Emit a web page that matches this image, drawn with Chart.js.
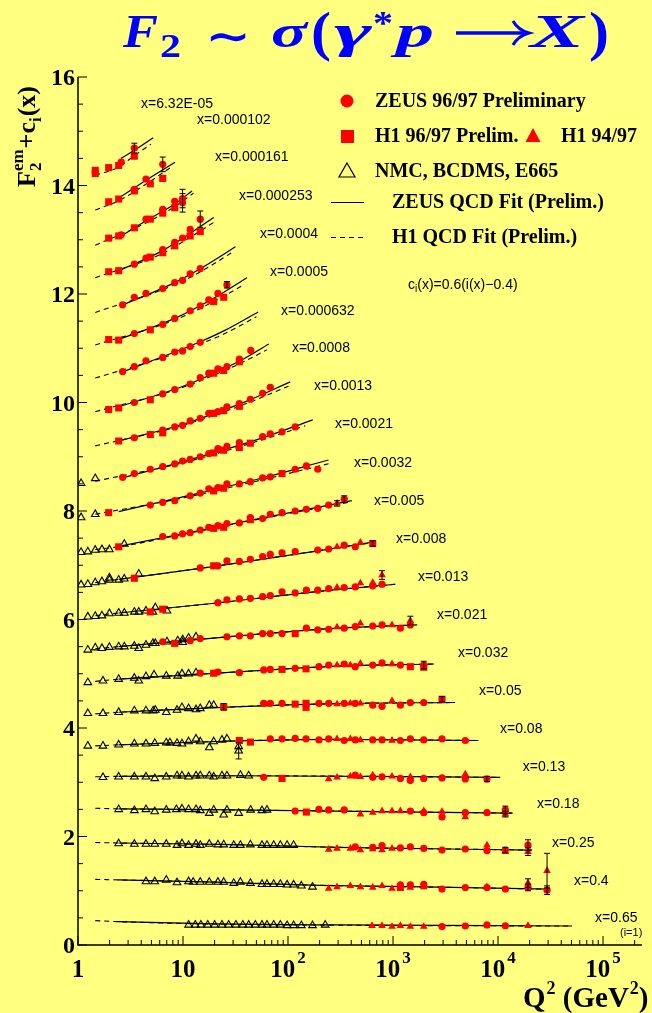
<!DOCTYPE html>
<html>
<head>
<meta charset="utf-8">
<title>F2 vs Q2</title>
<script src="https://cdn.jsdelivr.net/npm/chart.js@4.4.0/dist/chart.umd.min.js"></script>
<style>
  html, body { margin: 0; padding: 0; background: #ffff80; }
  #wrap { width: 652px; height: 1013px; position: relative; }
</style>
</head>
<body>
<div id="wrap"><canvas id="f2chart" width="652" height="1013"></canvas></div>
<script>
// bins, bottom (i=1) to top; values plotted are F2 + c_i(x), Q2 in GeV^2
const binNames = ['x=0.65', 'x=0.4', 'x=0.25', 'x=0.18', 'x=0.13', 'x=0.08', 'x=0.05', 'x=0.032',
  'x=0.021', 'x=0.013', 'x=0.008', 'x=0.005', 'x=0.0032', 'x=0.0021', 'x=0.0013', 'x=0.0008',
  'x=0.000632', 'x=0.0005', 'x=0.0004', 'x=0.000253', 'x=0.000161', 'x=0.000102', 'x=6.32E-05'];

// where each bin name sits (Q2, y)
const binLabelAt = [[83900, 0.50], [52900, 1.18], [32700, 1.88], [23500, 2.60], [17200, 3.28], [10440, 3.98],
  [6592, 4.68], [4159, 5.38], [2624, 6.08], [1730, 6.78], [1068, 7.48], [659, 8.19], [425, 8.88], [280, 9.60],
  [177, 10.30], [109, 11.0], [85.8, 11.69], [67.4, 12.41], [54.1, 13.11], [34.1, 13.81], [20.2, 14.53],
  [13.6, 15.20], [3.98, 15.50]];

// ZEUS 96/97 preliminary  [Q2, F2+c, error]
const zeusPoints = [
  // x=0.65
  [2928, 0.34], [4880, 0.35], [7850, 0.37], [11740, 0.355],
  // x=0.4
  [1175, 1.11], [1462, 1.11], [1962, 1.12], [2928, 1.03], [4880, 1.06], [7850, 1.06], [11740, 1.03], [19300, 1.06, 0.06], [29300, 1.01, 0.08],
  // x=0.25
  [437, 1.81], [641, 1.80], [786, 1.83], [1175, 1.79], [1462, 1.81], [1962, 1.78], [2928, 1.75], [4880, 1.77], [7850, 1.74], [11740, 1.75, 0.05], [19300, 1.84, 0.1],
  // x=0.18
  [117, 2.47], [197, 2.50], [244, 2.49], [343, 2.49], [1462, 2.47], [1962, 2.44], [2928, 2.36], [4880, 2.44], [7850, 2.44], [11740, 2.49, 0.07],
  // x=0.13
  [58.7, 3.09], [437, 3.13], [641, 3.09], [786, 3.10], [1175, 3.07], [1462, 3.03], [1962, 3.07], [2928, 3.08], [4880, 3.06], [7850, 3.06, 0.05],
  // x=0.08
  [67.8, 3.80], [87.7, 3.80], [117, 3.81], [148.5, 3.80], [197, 3.78], [244, 3.80], [343, 3.77], [437, 3.78], [641, 3.78], [786, 3.78], [1175, 3.77], [1462, 3.80], [1962, 3.78], [2928, 3.80], [4880, 3.77],
  // x=0.05
  [58.7, 4.455], [67.8, 4.455], [87.7, 4.455], [197, 4.455], [244, 4.455], [343, 4.455], [437, 4.455], [641, 4.42], [786, 4.40], [1175, 4.42], [1462, 4.47], [1962, 4.47],
  // x=0.032
  [14.6, 5.01], [21.5, 5.03], [34.4, 5.02], [58.7, 5.07], [67.8, 5.08], [117, 5.10], [197, 5.13], [244, 5.16], [343, 5.18], [437, 5.13], [641, 5.16], [786, 5.20], [1175, 5.16], [1962, 5.16, 0.07],
  // x=0.021
  [6.41, 5.59], [11.7, 5.61], [14.6, 5.65], [26.2, 5.68], [34.4, 5.70], [43.8, 5.70], [57.3, 5.74], [67.8, 5.74], [87.7, 5.74], [149.5, 5.84], [192, 5.81], [244, 5.82], [343, 5.84], [437, 5.87], [641, 5.88], [786, 5.90], [1175, 5.84], [1462, 5.90],
  // x=0.013
  [21.5, 6.31], [26.2, 6.36], [34.4, 6.38], [43.8, 6.39], [57.3, 6.42], [67.8, 6.44], [87.7, 6.51], [117, 6.49], [149.5, 6.54], [192, 6.54], [244, 6.57], [343, 6.59], [437, 6.60], [641, 6.62], [786, 6.65],
  // x=0.008
  [14.6, 6.95], [21.5, 6.99], [26.2, 7.08], [34.4, 7.07], [43.8, 7.11], [57.3, 7.16], [67.8, 7.20], [87.7, 7.23], [117, 7.25], [192, 7.28], [244, 7.30], [343, 7.37], [437, 7.34],
  // x=0.005
  [6.41, 7.53], [8.34, 7.54], [9.9, 7.58], [11.7, 7.60], [14.6, 7.65], [17.6, 7.70], [21.5, 7.73], [26.2, 7.77], [34.4, 7.78], [43.8, 7.88], [57.3, 7.86], [67.8, 7.94], [87.7, 7.97], [117, 8.00], [149.5, 8.03], [192, 8.05], [244, 8.11], [343, 8.22, 0.06],
  // x=0.0032
  [4.88, 8.11], [6.41, 8.16], [8.34, 8.19], [11.7, 8.28], [14.6, 8.33], [17.6, 8.41], [21.5, 8.43], [26.2, 8.50], [34.4, 8.50], [43.8, 8.54], [57.3, 8.61], [67.8, 8.63], [117, 8.77], [149.5, 8.83], [192, 8.77],
  // x=0.0021
  [2.66, 8.62], [3.44, 8.69], [4.88, 8.77], [6.41, 8.82], [8.34, 8.87], [9.9, 8.92], [11.7, 8.95], [14.6, 9.00], [17.6, 9.06], [21.5, 9.15], [26.2, 9.19], [34.4, 9.26], [57.3, 9.37], [67.8, 9.42], [87.7, 9.46], [117, 9.55],
  // x=0.0013
  [3.44, 9.35], [6.41, 9.49], [8.34, 9.55], [9.9, 9.58], [11.7, 9.66], [14.6, 9.71], [17.6, 9.80], [21.5, 9.83], [26.2, 9.92], [34.4, 9.98], [43.8, 10.06], [57.3, 10.17], [67.8, 10.28],
  // x=0.0008
  [3.44, 10.00], [6.41, 10.16], [8.34, 10.24], [11.7, 10.34], [14.6, 10.46], [17.6, 10.54], [21.5, 10.62], [26.2, 10.66], [34.4, 10.80], [44.2, 10.96],
  // x=0.000632
  [2.66, 10.57], [3.44, 10.66], [4.44, 10.77], [6.41, 10.83], [8.34, 10.93], [9.9, 10.95], [11.7, 11.03], [14.6, 11.11],
  // x=0.0005
  [3.44, 11.27], [6.41, 11.44], [8.34, 11.55], [11.7, 11.69], [14.6, 11.78], [17.6, 11.89], [21.5, 12.01], [26.2, 12.17, 0.06],
  // x=0.0004
  [2.66, 11.80], [3.44, 11.94], [4.44, 12.01], [6.41, 12.10], [8.34, 12.21], [9.9, 12.25], [11.7, 12.37], [14.6, 12.47],
  // x=0.000253
  [3.44, 12.55], [4.44, 12.66], [6.41, 12.82], [8.34, 12.95], [9.9, 13.03], [11.7, 13.19], [14.6, 13.38, 0.15],
  // x=0.000161
  [2.58, 13.09], [4.44, 13.38], [6.41, 13.56], [8.34, 13.71], [9.9, 13.76, 0.17], [9.9, 13.68, 0.17],
  // x=0.000102
  [3.44, 13.93], [4.44, 14.12], [6.41, 14.39, 0.135],
  // x=6.32E-05
  [2.58, 14.43], [3.44, 14.69, 0.09]
];

// H1 96/97 preliminary
const h1Squares = [
  // x=0.4
  [1175, 1.06],
  // x=0.18
  [149.5, 2.45],
  // x=0.13
  [87.7, 3.07],
  // x=0.08
  [34.4, 3.77], [43.8, 3.74],
  // x=0.05
  [24.4, 4.39, 0.06], [117, 4.44], [148.5, 4.455], [148.5, 4.38], [2928, 4.53, 0.05],
  // x=0.032
  [19.6, 5.01], [87.7, 5.08], [148.5, 5.09], [1462, 5.13], [1962, 5.12],
  // x=0.021
  [8.34, 5.56], [117, 5.74],
  // x=0.013
  [4.88, 6.14], [6.41, 6.19],
  // x=0.008
  [3.44, 6.76], [19.6, 6.99], [641, 7.40, 0.05],
  // x=0.005
  [2.44, 7.34], [19.6, 7.68], [24.4, 7.70], [43.8, 7.84],
  // x=0.0032
  [1.96, 7.97], [19.6, 8.37], [24.4, 8.42], [87.7, 8.69],
  // x=0.0021
  [19.6, 9.07], [24.4, 9.12], [34.4, 9.17], [43.8, 9.25],
  // x=0.0013
  [2.44, 9.29], [4.88, 9.41], [6.41, 9.44], [19.6, 9.80], [24.4, 9.85], [34.4, 9.93],
  // x=0.0008
  [1.96, 9.87], [2.44, 9.90], [4.88, 10.05], [19.6, 10.54], [24.4, 10.59], [34.4, 10.75],
  // x=0.0005
  [1.96, 11.16], [2.44, 11.15], [4.88, 11.34], [19.6, 11.86], [24.4, 11.94],
  // x=0.000253
  [1.96, 12.41], [2.44, 12.43], [4.88, 12.68], [6.41, 12.76], [8.34, 12.89], [11.7, 13.07], [14.6, 13.15],
  // x=0.000161
  [1.96, 13.03], [2.44, 13.07], [3.44, 13.22], [4.88, 13.38], [6.41, 13.49], [8.34, 13.59],
  // x=0.000102
  [1.96, 13.70], [2.44, 13.75], [3.44, 13.90], [4.88, 14.03], [6.41, 14.13],
  // x=6.32E-05
  [1.46, 14.22], [1.46, 14.28], [1.96, 14.33], [2.44, 14.37], [3.44, 14.54]
];

// H1 94/97
const h1Triangles = [
  // x=0.65
  [631, 0.355], [786, 0.355], [978, 0.34], [1175, 0.355], [1462, 0.34], [1962, 0.34], [19300, 0.355],
  // x=0.4
  [244, 1.04], [293, 1.07], [392, 1.09], [489, 1.07], [641, 1.06], [786, 1.09], [978, 1.04], [1462, 1.06], [1962, 1.07], [7850, 1.07], [19300, 1.14, 0.08], [29300, 1.37, 0.32],
  // x=0.25
  [244, 1.76], [293, 1.78], [392, 1.78], [489, 1.75], [641, 1.77], [786, 1.75], [978, 1.78], [7850, 1.84], [11740, 1.72], [19300, 1.72, 0.07],
  // x=0.18
  [489, 2.41], [641, 2.44], [786, 2.47], [978, 2.47], [1175, 2.47], [1962, 2.47], [2928, 2.46], [4880, 2.36], [11740, 2.41, 0.05],
  // x=0.13
  [244, 3.06], [293, 3.09], [392, 3.11], [489, 3.10], [641, 3.13], [978, 3.11], [1462, 3.10], [4880, 3.15],
  // x=0.08
  [293, 3.80], [392, 3.80], [489, 3.78], [978, 3.77],
  // x=0.05
  [293, 4.44], [392, 4.455], [489, 4.455], [978, 4.50],
  // x=0.032
  [293, 5.16], [392, 5.16], [489, 5.19], [978, 5.18],
  // x=0.021
  [293, 5.86], [489, 5.93], [978, 5.90], [1462, 5.98, 0.08],
  // x=0.013
  [293, 6.59], [489, 6.67], [641, 6.68], [786, 6.82, 0.08],
  // x=0.008
  [293, 7.34], [489, 7.42],
  // x=0.005
  [293, 8.14, 0.05]
];

// NMC, BCDMS, E665
const fixedTarget = [
  // x=0.65
  [11.3, 0.37], [13.1, 0.37], [14.8, 0.37], [17.2, 0.37], [20.0, 0.37], [23.5, 0.37], [27.2, 0.37], [31.9, 0.37], [37.1, 0.37], [42.2, 0.37], [48.8, 0.37], [56.5, 0.37], [63, 0.37], [73, 0.37], [84.5, 0.37], [98, 0.36], [113, 0.36], [134, 0.36], [171, 0.36], [226, 0.37],
  // x=0.4
  [4.44, 1.17], [5.38, 1.17], [6.93, 1.20], [8.77, 1.15], [11.3, 1.17], [12.5, 1.16], [14.6, 1.16], [17.8, 1.16], [21.5, 1.16], [24.4, 1.16], [30.4, 1.14], [35.2, 1.16], [43.8, 1.14], [56.5, 1.12], [63, 1.12], [73, 1.12], [84.5, 1.12], [98, 1.11], [113, 1.11], [134, 1.09], [171, 1.07],
  // x=0.25
  [2.44, 1.87], [3.44, 1.86], [4.44, 1.86], [5.38, 1.86], [6.93, 1.86], [8.77, 1.84], [9.78, 1.87], [11.3, 1.84], [13.3, 1.86], [14.6, 1.84], [17.8, 1.86], [21.5, 1.85], [24.4, 1.85], [30.4, 1.84], [35.2, 1.84], [43.8, 1.85], [56.5, 1.84], [63, 1.84], [73, 1.84], [84.5, 1.84], [98, 1.84], [113, 1.84],
  // x=0.18
  [2.44, 2.50], [3.44, 2.48], [4.44, 2.50], [5.38, 2.46], [6.93, 2.49], [8.65, 2.50], [9.78, 2.51], [11.3, 2.50], [13.3, 2.50], [14.6, 2.48], [17.8, 2.43], [19.6, 2.49], [24.4, 2.40], [26.2, 2.49], [33.9, 2.43], [44, 2.49], [56.5, 2.48], [63, 2.49],
  // x=0.13
  [1.73, 3.09], [2.44, 3.10], [3.44, 3.10], [4.44, 3.10], [5.38, 3.07], [6.93, 3.10], [8.77, 3.12], [9.78, 3.12], [11.3, 3.10], [13.3, 3.12], [14.6, 3.12], [17.8, 3.12], [19.6, 3.10], [23.5, 3.12], [26.2, 3.12], [35.2, 3.13], [42.2, 3.12],
  // x=0.08
  [1.24, 3.67], [1.73, 3.67], [2.44, 3.69], [3.44, 3.71], [4.44, 3.71], [5.38, 3.72], [6.93, 3.73], [7.5, 3.73], [8.77, 3.72], [9.78, 3.71], [11.3, 3.75], [13.3, 3.80], [14.6, 3.75], [17.8, 3.64], [19.6, 3.75], [23.5, 3.78], [26.2, 3.80], [33.9, 3.66], [33.9, 3.58, 0.15],
  // x=0.05
  [1.24, 4.27], [1.73, 4.27], [2.44, 4.29], [3.44, 4.32], [4.44, 4.32], [5.2, 4.32], [5.45, 4.33], [6.93, 4.29], [8.77, 4.33], [9.78, 4.38], [11.3, 4.36], [13.3, 4.34], [14.6, 4.36], [17.8, 4.42], [19.6, 4.42],
  // x=0.032
  [1.24, 4.84], [1.73, 4.87], [2.44, 4.90], [3.44, 4.92], [3.79, 4.87], [4.44, 4.95], [5.3, 4.98], [6.93, 4.96], [8.9, 4.96], [9.78, 5.00], [11.3, 5.00], [13.3, 5.02],
  // x=0.021
  [1.24, 5.44], [1.46, 5.48], [1.69, 5.47], [1.99, 5.49], [2.44, 5.50], [2.76, 5.50], [3.44, 5.51], [3.79, 5.47], [4.44, 5.53], [5.17, 5.56], [5.45, 5.56], [7.04, 5.59], [8.9, 5.61], [9.94, 5.63], [9.94, 5.58], [11.3, 5.66], [13.3, 5.68],
  // x=0.013
  [1.24, 6.05], [1.46, 6.06], [1.69, 6.07], [1.99, 6.11], [2.44, 6.12], [2.76, 6.12], [3.44, 6.14], [3.79, 6.14], [4.44, 6.16], [5.17, 6.14], [5.45, 6.22], [7.04, 6.16],
  // x=0.008
  [1.07, 6.64], [1.24, 6.65], [1.46, 6.68], [1.69, 6.70], [1.99, 6.73], [1.99, 6.77], [2.44, 6.73], [2.76, 6.75], [3.79, 6.84],
  // x=0.005
  [1.07, 7.24], [1.24, 7.25], [1.46, 7.28], [1.69, 7.29], [1.99, 7.29], [2.76, 7.39],
  // x=0.0032
  [1.07, 7.88], [1.46, 7.94],
  // x=0.0021
  [1.07, 8.51], [1.46, 8.60]
];

// ZEUS QCD fit, one curve per bin (knots along the curve)
const zeusFit = [
  [[2.4, 0.43], [20, 0.39], [300, 0.37], [50700, 0.35]],
  [[2.4, 1.20], [20, 1.16], [200, 1.10], [2000, 1.07], [30500, 1.03]],
  [[2.44, 1.88], [30, 1.85], [300, 1.80], [21000, 1.75]],
  [[2.44, 2.51], [30, 2.49], [13700, 2.43]],
  [[2.44, 3.11], [30, 3.12], [10500, 3.09]],
  [[2.44, 3.69], [30, 3.76], [300, 3.79], [6490, 3.77]],
  [[2.44, 4.29], [30, 4.39], [300, 4.45], [3900, 4.47]],
  [[2.44, 4.90], [30, 5.03], [300, 5.14], [2450, 5.18]],
  [[2.44, 5.50], [30, 5.69], [300, 5.84], [1700, 5.90]],
  [[2.44, 6.12], [20, 6.30], [200, 6.52], [1050, 6.65]],
  [[2.44, 6.74], [20, 6.98], [200, 7.27], [660, 7.43]],
  [[2.44, 7.35], [10, 7.58], [50, 7.85], [405, 8.19]],
  [[2.44, 7.99], [10, 8.26], [50, 8.58], [243, 8.94]],
  [[2.53, 8.60], [10, 8.91], [50, 9.31], [172, 9.68]],
  [[2.44, 9.29], [10, 9.60], [40, 10.02], [105, 10.38]],
  [[2.44, 9.92], [10, 10.30], [35, 10.77], [65.6, 11.08]],
  [[2.53, 10.55], [8.34, 10.93], [14.6, 11.12], [25, 11.33], [52, 11.67]],
  [[2.53, 11.17], [8.34, 11.55], [20, 11.93], [40.6, 12.30]],
  [[2.53, 11.78], [8.34, 12.21], [15, 12.48], [31.6, 12.87]],
  [[2.53, 12.44], [6.4, 12.80], [12, 13.13], [19.6, 13.41]],
  [[2.53, 13.06], [4.44, 13.35], [8.34, 13.66], [12.2, 13.90]],
  [[2.53, 13.79], [4.4, 14.09], [8.4, 14.43]],
  [[2.57, 14.50], [3.44, 14.65], [5.2, 14.88]]
];

// H1 QCD fit
const h1Fit = [
  [[1.46, 0.45], [2.4, 0.43], [20, 0.385], [300, 0.365], [50700, 0.35]],
  [[1.46, 1.21], [2.4, 1.20], [20, 1.16], [200, 1.10], [2000, 1.07], [30500, 1.03]],
  [[1.46, 1.89], [2.44, 1.88], [30, 1.85], [300, 1.80], [21000, 1.75]],
  [[1.46, 2.52], [2.44, 2.51], [30, 2.49], [13700, 2.43]],
  [[1.46, 3.10], [2.44, 3.11], [30, 3.12], [10500, 3.09]],
  [[1.46, 3.67], [2.44, 3.69], [30, 3.76], [300, 3.79], [6490, 3.77]],
  [[1.46, 4.26], [2.44, 4.29], [30, 4.39], [300, 4.45], [3900, 4.47]],
  [[1.46, 4.86], [2.44, 4.90], [30, 5.03], [300, 5.14], [2450, 5.18]],
  [[1.46, 5.46], [2.44, 5.50], [30, 5.69], [300, 5.84], [1700, 5.90]],
  [[1.46, 6.07], [2.44, 6.12], [20, 6.30], [200, 6.52], [1050, 6.65]],
  [[1.46, 6.68], [2.44, 6.74], [20, 6.98], [200, 7.27], [660, 7.42]],
  [[1.46, 7.29], [2.44, 7.34], [10, 7.57], [50, 7.84], [405, 8.17]],
  [[1.46, 7.94], [10, 8.24], [50, 8.55], [243, 8.87]],
  [[1.46, 8.55], [10, 8.89], [50, 9.28], [146, 9.57]],
  [[1.46, 9.20], [10, 9.58], [40, 9.98], [101, 10.30]],
  [[1.46, 9.83], [10, 10.28], [35, 10.72], [62.9, 10.97]],
  [[1.46, 10.45], [8.34, 10.90], [14.6, 11.08], [25, 11.27], [50, 11.58]],
  [[1.46, 11.06], [8.34, 11.52], [20, 11.87], [37.9, 12.17]],
  [[1.46, 11.66], [8.34, 12.17], [15, 12.42], [30.1, 12.78]],
  [[1.46, 12.30], [6.4, 12.75], [12, 13.06], [19.6, 13.32]],
  [[1.46, 12.90], [4.44, 13.31], [8.34, 13.61], [12.6, 13.86]],
  [[1.46, 13.55], [2.44, 13.72], [4.4, 14.02], [7.85, 14.35]],
  [[1.46, 14.19], [2.44, 14.34], [3.44, 14.55], [4.95, 14.76]]
];

// axis ticks
const xDecades = [1, 10, 100, 1000, 10000, 100000];
const xDecadeBase = ['1', '10', '10', '10', '10', '10'];
const xDecadeExp = ['', '', '2', '3', '4', '5'];
const yTickLabels = [0, 2, 4, 6, 8, 10, 12, 14, 16];

const RED = '#ff0000';
const SERIF = '"Liberation Serif", "DejaVu Serif", serif';
const SANS = '"Liberation Sans", "DejaVu Sans", sans-serif';

const toPts = rows => rows.map(r => ({ x: r[0], y: r[1], err: r[2] || 0 }));

const datasets = [
  { label: 'ZEUS 96/97 Preliminary', data: toPts(zeusPoints), pointStyle: 'circle', pointRadius: 3.6,
    backgroundColor: RED, borderColor: RED, borderWidth: 0 },
  { label: 'H1 96/97 Prelim.', data: toPts(h1Squares), pointStyle: 'rect', pointRadius: 5,
    backgroundColor: RED, borderColor: RED, borderWidth: 0 },
  { label: 'H1 94/97', data: toPts(h1Triangles), pointStyle: 'triangle', pointRadius: 4.4,
    backgroundColor: RED, borderColor: RED, borderWidth: 0 },
  { label: 'NMC, BCDMS, E665', data: toPts(fixedTarget), pointStyle: 'triangle', pointRadius: 4.4,
    backgroundColor: 'rgba(0,0,0,0)', borderColor: '#000', borderWidth: 1.1 }
];
zeusFit.forEach((curve, i) => datasets.push({
  label: 'ZEUS QCD Fit ' + binNames[i], data: toPts(curve), showLine: true, pointRadius: 0,
  borderColor: '#000', borderWidth: 1.2, tension: 0.4, cubicInterpolationMode: 'monotone'
}));
h1Fit.forEach((curve, i) => datasets.push({
  label: 'H1 QCD Fit ' + binNames[i], data: toPts(curve), showLine: true, pointRadius: 0,
  borderColor: '#000', borderWidth: 1.1, borderDash: [5, 4], tension: 0.4, cubicInterpolationMode: 'monotone'
}));

function line(ctx, x1, y1, x2, y2) {
  ctx.beginPath(); ctx.moveTo(x1, y1); ctx.lineTo(x2, y2); ctx.stroke();
}

// text pieces: [text, font, dy, extra advance]
function textRun(ctx, parts, x, y) {
  parts.forEach(p => {
    ctx.font = p[1];
    ctx.fillText(p[0], x, y + (p[2] || 0));
    x += ctx.measureText(p[0]).width + (p[3] || 0);
  });
  return x;
}

// one glyph squeezed/stretched to a given advance width
function glyph(ctx, t, font, x, y, w) {
  ctx.font = font;
  const m = ctx.measureText(t).width;
  ctx.save();
  ctx.translate(x, y);
  ctx.scale(w / m, 1);
  ctx.fillText(t, 0, 0);
  ctx.restore();
}

const errorBars = {
  id: 'errorBars',
  afterDatasetsDraw(chart) {
    const ctx = chart.ctx, ys = chart.scales.y;
    ctx.save();
    ctx.strokeStyle = '#000';
    ctx.lineWidth = 1;
    chart.data.datasets.forEach((ds, i) => {
      const meta = chart.getDatasetMeta(i);
      ds.data.forEach((d, j) => {
        if (!d.err) return;
        const px = meta.data[j].x;
        const top = ys.getPixelForValue(d.y + d.err), bot = ys.getPixelForValue(d.y - d.err);
        line(ctx, px, top, px, bot);
        line(ctx, px - 3, top, px + 3, top);
        line(ctx, px - 3, bot, px + 3, bot);
      });
    });
    ctx.restore();
  }
};

const decorations = {
  id: 'decorations',
  afterDraw(chart) {
    const ctx = chart.ctx, a = chart.chartArea;
    const xs = chart.scales.x, ys = chart.scales.y;
    ctx.save();
    ctx.strokeStyle = '#000';
    ctx.fillStyle = '#000';

    // axes
    ctx.lineWidth = 1.5;
    ctx.beginPath();
    ctx.moveTo(a.left, a.top); ctx.lineTo(a.left, a.bottom); ctx.lineTo(a.right, a.bottom);
    ctx.stroke();
    ctx.lineWidth = 1;
    for (let k = 0; k <= 32; k++) {
      const py = ys.getPixelForValue(k / 2);
      line(ctx, a.left, py, a.left + (k % 4 === 0 ? 9 : 5), py);
    }
    xDecades.forEach(d => {
      for (let m = 1; m <= 9; m++) {
        const q = d * m;
        if (q > xs.max) break;
        const px = xs.getPixelForValue(q);
        line(ctx, px, a.bottom, px, a.bottom - (m === 1 ? 9 : 5));
      }
    });

    // tick labels
    ctx.textBaseline = 'alphabetic';
    ctx.textAlign = 'right';
    ctx.font = 'bold 24px ' + SERIF;
    yTickLabels.forEach(v => ctx.fillText(String(v), a.left - 3, ys.getPixelForValue(v) + 8));
    ctx.textAlign = 'left';
    xDecades.forEach((d, i) => {
      const px = xs.getPixelForValue(d);
      ctx.font = 'bold 25px ' + SERIF;
      const wb = ctx.measureText(xDecadeBase[i]).width;
      ctx.font = 'bold 17px ' + SERIF;
      const we = xDecadeExp[i] ? ctx.measureText(xDecadeExp[i]).width + 2 : 0;
      textRun(ctx, [[xDecadeBase[i], 'bold 25px ' + SERIF, 0, 2], [xDecadeExp[i], 'bold 17px ' + SERIF, -14]],
        px - (wb + we) / 2, 977);
    });

    // axis titles
    textRun(ctx, [['Q', 'bold 29px ' + SERIF, 0, 1], ['2', 'bold 18px ' + SERIF, -13], [' (GeV', 'bold 29px ' + SERIF, 0, 1],
      ['2', 'bold 18px ' + SERIF, -13], [')', 'bold 29px ' + SERIF]], 523, 1007);

    ctx.save();
    ctx.translate(35, 187);
    ctx.rotate(-Math.PI / 2);
    ctx.font = 'bold 26px ' + SERIF;
    ctx.fillText('F', 0, 0);
    let tx = ctx.measureText('F').width;
    ctx.font = 'bold 17px ' + SERIF;
    ctx.fillText('2', tx, 6);
    ctx.fillText('em', tx, -12);
    tx += ctx.measureText('em').width + 1;
    tx = textRun(ctx, [['+c', 'bold 26px ' + SERIF], ['i', 'bold 17px ' + SERIF, 6, 1]], tx, 0);
    textRun(ctx, [['(x)', 'bold 26px ' + SERIF]], tx, 0);
    ctx.restore();

    // bin names
    ctx.font = '14px ' + SANS;
    ctx.textBaseline = 'middle';
    binNames.forEach((name, i) => {
      const [q, v] = binLabelAt[i];
      ctx.fillText(name, xs.getPixelForValue(q), ys.getPixelForValue(v));
    });
    ctx.font = '11px ' + SANS;
    ctx.fillText('(i=1)', xs.getPixelForValue(145000), ys.getPixelForValue(0.22));

    // offset note
    let nx = textRun(ctx, [['c', '14px ' + SANS], ['i', '10px ' + SANS, 4]], 408, 285);
    textRun(ctx, [['(x)=0.6(i(x)\u22120.4)', '14px ' + SANS]], nx, 285);

    // legend
    ctx.fillStyle = RED;
    ctx.beginPath(); ctx.arc(347, 101, 6.5, 0, Math.PI * 2); ctx.fill();
    ctx.fillRect(341, 130, 13, 13);
    ctx.beginPath(); ctx.moveTo(533, 128); ctx.lineTo(540.5, 142); ctx.lineTo(525.5, 142); ctx.closePath(); ctx.fill();
    ctx.strokeStyle = '#000';
    ctx.lineWidth = 1.2;
    ctx.beginPath(); ctx.moveTo(347, 163); ctx.lineTo(355, 177); ctx.lineTo(339, 177); ctx.closePath(); ctx.stroke();
    line(ctx, 331, 202.5, 364, 202.5);
    ctx.setLineDash([5, 4]);
    line(ctx, 331, 237.5, 364, 237.5);
    ctx.setLineDash([]);
    ctx.fillStyle = '#000';
    ctx.font = 'bold 20px ' + SERIF;
    ctx.fillText('ZEUS 96/97 Preliminary', 375, 102);
    ctx.fillText('H1 96/97 Prelim.', 375, 137);
    ctx.fillText('H1 94/97', 561, 137);
    ctx.fillText('NMC, BCDMS, E665', 375, 172);
    ctx.fillText('ZEUS QCD Fit (Prelim.)', 392, 203);
    ctx.fillText('H1 QCD Fit (Prelim.)', 392, 238);

    // title: F2 ~ sigma(gamma* p -> X)
    ctx.fillStyle = '#0000ff';
    ctx.textBaseline = 'alphabetic';
    const bi = 'italic bold 46px ' + SERIF;
    glyph(ctx, 'F', bi, 123, 47, 35);
    glyph(ctx, '2', 'bold 34px ' + SERIF, 160, 57, 21);
    glyph(ctx, '\u223C', 'bold 46px "DejaVu Serif", serif', 205, 52, 46);
    glyph(ctx, '\u03C3', bi, 271, 47, 36);
    glyph(ctx, '(', 'bold 54px ' + SERIF, 311, 50, 20);
    glyph(ctx, '\u03B3', bi, 334, 47, 38);
    glyph(ctx, '*', 'bold 34px ' + SERIF, 373, 34, 20);
    glyph(ctx, 'p', bi, 396, 47, 38);
    glyph(ctx, 'X', bi, 530, 47, 54);
    glyph(ctx, ')', 'bold 54px ' + SERIF, 589, 50, 20);
    ctx.strokeStyle = '#0000ff';
    ctx.lineWidth = 3.5;
    line(ctx, 456, 33, 524, 33);
    ctx.lineWidth = 3;
    ctx.beginPath(); ctx.moveTo(513, 21); ctx.quadraticCurveTo(518, 30, 529, 33); ctx.quadraticCurveTo(518, 36, 513, 45); ctx.stroke();

    ctx.restore();
  }
};

new Chart(document.getElementById('f2chart'), {
  type: 'scatter',
  data: { datasets },
  options: {
    responsive: false,
    devicePixelRatio: 1,
    animation: false,
    layout: { padding: { left: 78, right: 10, top: 77, bottom: 68 } },
    scales: {
      x: { type: 'logarithmic', min: 1, max: 235000, display: false },
      y: { type: 'linear', min: 0, max: 16, display: false }
    },
    plugins: { legend: { display: false }, tooltip: { enabled: false } },
    elements: { line: { fill: false } }
  },
  plugins: [errorBars, decorations]
});
</script>
</body>
</html>
